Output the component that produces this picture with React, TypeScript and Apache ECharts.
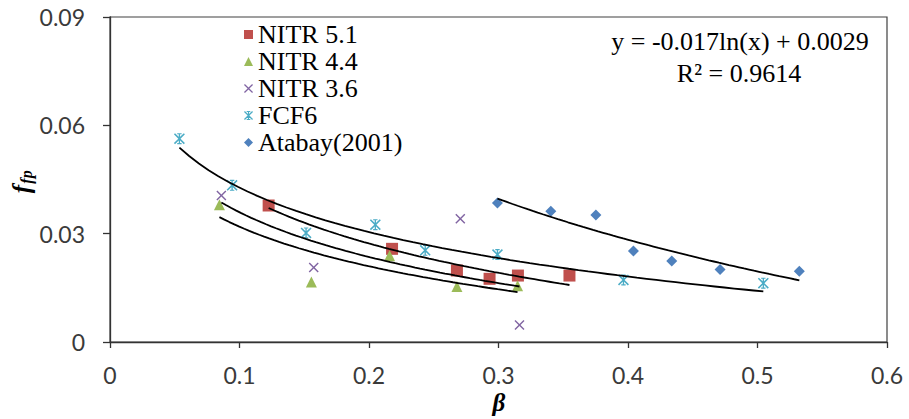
import React, { useEffect, useRef } from "react";
import * as echarts from "echarts";

const seriesNames = ["NITR 5.1", "NITR 4.4", "NITR 3.6", "FCF6", "Atabay(2001)"];

const nitr51X = [0.1225, 0.2178, 0.2679, 0.2931, 0.315, 0.3548];
const nitr51Y = [0.0378, 0.0258, 0.0198, 0.0175, 0.0184, 0.0184];

const nitr44X = [0.0845, 0.1555, 0.2159, 0.2679, 0.3147];
const nitr44Y = [0.038, 0.0166, 0.0239, 0.0154, 0.0156];

const nitr36X = [0.086, 0.1573, 0.2705, 0.3162];
const nitr36Y = [0.0406, 0.0206, 0.0341, 0.0047];

const fcf6X = [0.0536, 0.0943, 0.1514, 0.2049, 0.2434, 0.2992, 0.3965, 0.5045];
const fcf6Y = [0.0563, 0.0434, 0.0302, 0.0325, 0.0254, 0.0242, 0.0172, 0.0163];

const atabayX = [0.2992, 0.3404, 0.3752, 0.4042, 0.4338, 0.4711, 0.5323];
const atabayY = [0.0385, 0.0362, 0.0352, 0.0252, 0.0224, 0.0201, 0.0196];

const xTicks = [0, 0.1, 0.2, 0.3, 0.4, 0.5, 0.6];
const yTicks = [0, 0.03, 0.06, 0.09];

const equationLines = ["y = -0.017ln(x) + 0.0029", "R² = 0.9614"];

const colors = ["#C0504D", "#9BBB59", "#8064A2", "#4BACC6", "#4F81BD"];

const crossPath =
  "path://M1,0 L5,4 L9,0 L10,1 L6,5 L10,9 L9,10 L5,6 L1,10 L0,9 L4,5 L0,1 Z";
const starPath =
  "path://M1,0 L5,4 L9,0 L10,1 L6,5 L10,9 L9,10 L5,6 L1,10 L0,9 L4,5 L0,1 Z M4.4,0 L5.6,0 L5.6,10 L4.4,10 Z M3,0 L7,0 L7,1 L3,1 Z M3,9 L7,9 L7,10 L3,10 Z";
const symbols = ["rect", "triangle", crossPath, starPath, "diamond"];
const symbolSizes = [12, 11, 10, 11, 11];

function logFit(xs: number[], ys: number[]) {
  const lx = xs.map((v) => Math.log(v));
  const n = xs.length;
  const mx = lx.reduce((s, v) => s + v, 0) / n;
  const my = ys.reduce((s, v) => s + v, 0) / n;
  let sxy = 0;
  let sxx = 0;
  for (let i = 0; i < n; i++) {
    sxy += (lx[i] - mx) * (ys[i] - my);
    sxx += (lx[i] - mx) * (lx[i] - mx);
  }
  const a = sxy / sxx;
  const b = my - a * mx;
  return { a, b };
}

function trend(xs: number[], ys: number[]) {
  const { a, b } = logFit(xs, ys);
  const lo = Math.min(...xs);
  const hi = Math.max(...xs);
  const pts: number[][] = [];
  const steps = 60;
  for (let i = 0; i <= steps; i++) {
    const x = lo + ((hi - lo) * i) / steps;
    pts.push([x, a * Math.log(x) + b]);
  }
  return pts;
}

const fmt = (v: number) => {
  if (Math.abs(v) < 1e-9) return "0";
  return String(parseFloat(v.toFixed(3)));
};

export default function App() {
  const ref = useRef<HTMLDivElement>(null);
  useEffect(() => {
    if (!ref.current) return;
    const chart = echarts.init(ref.current, undefined, { renderer: "svg" });
    const xsAll = [nitr51X, nitr44X, nitr36X, fcf6X, atabayX];
    const ysAll = [nitr51Y, nitr44Y, nitr36Y, fcf6Y, atabayY];

    const scatterSeries = seriesNames.map((name, i) => ({
      name,
      type: "scatter",
      symbol: symbols[i],
      symbolSize: symbolSizes[i],
      symbolKeepAspect: true,
      itemStyle: { color: colors[i], opacity: 1 },
      data: xsAll[i].map((x, j) => [x, ysAll[i][j]]),
      z: 2,
    }));

    const lineSeries = seriesNames.map((name, i) => ({
      name: name + " trend",
      type: "line",
      showSymbol: false,
      symbol: "none",
      smooth: false,
      lineStyle: { color: "#000", width: 1.8 },
      data: trend(xsAll[i], ysAll[i]),
      z: 3,
      silent: true,
    }));

    const labelStyle = {
      fontFamily: "Lato",
      fontSize: 23,
      color: "#3a3a3a",
    };

    chart.setOption({
      animation: false,
      backgroundColor: "#fff",
      grid: {
        left: 110,
        top: 17,
        width: 777,
        height: 325,
        show: true,
        borderColor: "#404040",
        borderWidth: 1.2,
        backgroundColor: "transparent",
      },
      xAxis: {
        type: "value",
        min: xTicks[0],
        max: xTicks[xTicks.length - 1],
        interval: 0.1,
        splitLine: { show: false },
        axisLine: { show: true, onZero: false, lineStyle: { color: "#333", width: 1.3 } },
        axisTick: { show: true, inside: false, length: 6, lineStyle: { color: "#333", width: 1.3 } },
        axisLabel: { ...labelStyle, margin: 21, formatter: (v: number) => fmt(v) },
      },
      yAxis: {
        type: "value",
        min: yTicks[0],
        max: yTicks[yTicks.length - 1],
        interval: 0.03,
        splitLine: { show: false },
        axisLine: { show: true, onZero: false, lineStyle: { color: "#333", width: 1.3 } },
        axisTick: { show: true, inside: false, length: 7, lineStyle: { color: "#333", width: 1.3 } },
        axisLabel: { ...labelStyle, margin: 25, formatter: (v: number) => fmt(v) },
      },
      legend: {
        orient: "vertical",
        left: 244,
        top: 21,
        padding: 0,
        itemGap: 0,
        itemWidth: 9,
        itemHeight: 9,
        itemStyle: { opacity: 1 },
        textStyle: {
          fontFamily: "Liberation Serif",
          fontSize: 26,
          lineHeight: 27,
          color: "#000",
        },
        data: seriesNames.map((n, i) => ({ name: n, icon: symbols[i] })),
      },
      graphic: [
        {
          type: "text",
          x: 740,
          y: 41,
          style: {
            text: equationLines[0],
            fontFamily: "Liberation Serif",
            fontSize: 26,
            fill: "#000",
            align: "center",
            verticalAlign: "middle",
          },
        },
        {
          type: "text",
          x: 739,
          y: 73,
          style: {
            text: equationLines[1],
            fontFamily: "Liberation Serif",
            fontSize: 26,
            fill: "#000",
            align: "center",
            verticalAlign: "middle",
          },
        },
        {
          type: "text",
          x: 499,
          y: 402,
          style: {
            text: "β",
            fontFamily: "Liberation Serif",
            fontStyle: "italic",
            fontWeight: "bold",
            fontSize: 25,
            fill: "#000",
            align: "center",
            verticalAlign: "middle",
          },
        },
        {
          type: "group",
          x: 21,
          y: 183,
          rotation: Math.PI / 2,
          children: [
            {
              type: "text",
              x: -6,
              y: 0,
              style: {
                text: "f",
                fontFamily: "Liberation Serif",
                fontStyle: "italic",
                fontWeight: "bold",
                fontSize: 25,
                fill: "#000",
                align: "center",
                verticalAlign: "middle",
              },
            },
            {
              type: "text",
              x: 6,
              y: 5,
              style: {
                text: "fp",
                fontFamily: "Liberation Serif",
                fontStyle: "italic",
                fontWeight: "bold",
                fontSize: 16,
                fill: "#000",
                align: "center",
                verticalAlign: "middle",
              },
            },
          ],
        },
      ],
      series: [...scatterSeries, ...lineSeries],
    });
    return () => chart.dispose();
  }, []);
  return (
    <div
      ref={ref}
      style={{ position: "fixed", left: 0, top: 0, width: 909, height: 419, background: "#fff" }}
    />
  );
}
